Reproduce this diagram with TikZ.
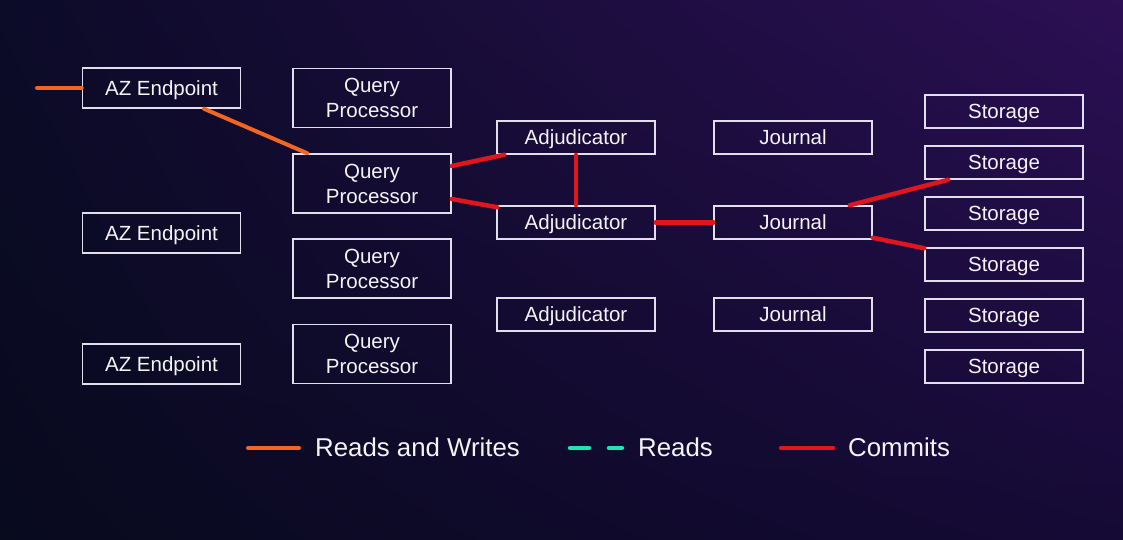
\documentclass[tikz,border=0pt]{standalone}
\usepackage{fontspec}
\setmainfont{Liberation Sans}
\usetikzlibrary{shadings}
\definecolor{bgUL}{HTML}{0C0B28}
\definecolor{bgUR}{HTML}{2C0F54}
\definecolor{bgLL}{HTML}{080A1E}
\definecolor{bgLR}{HTML}{150A36}
\definecolor{boxline}{HTML}{E2DEEC}
\definecolor{txt}{HTML}{F4F4F8}
\definecolor{rworange}{HTML}{F26522}
\definecolor{commitred}{HTML}{E0161E}
\definecolor{readteal}{HTML}{1FE5B5}
\tikzset{
  comp/.style={draw=boxline, line width=1.5pt, inner sep=0pt, text=txt,
    minimum width=158pt, font=\fontsize{20.5}{25}\selectfont, align=center},
  onebox/.style={comp, minimum height=40pt, text depth=0pt},
  twobox/.style={comp, minimum height=59pt},
  thinbox/.style={comp, minimum height=33pt, text depth=0pt},
  rwline/.style={draw=rworange, line width=4pt, line cap=round},
  cmline/.style={draw=commitred, line width=4.5pt, line cap=round},
  rdline/.style={draw=readteal, line width=4.5pt, line cap=round},
  legtext/.style={anchor=west, text=txt, inner sep=0pt, font=\fontsize{25.8}{30}\selectfont},
}
\begin{document}
\begin{tikzpicture}[x=1pt,y=-1pt]
\useasboundingbox (0,0) rectangle (1123,539);
\shade[upper left=bgUL, upper right=bgUR, lower left=bgLL, lower right=bgLR] (0,0) rectangle (1123,539);

% AZ endpoints
\node[onebox] (az1) at (161.5,88) {AZ Endpoint};
\node[onebox] (az2) at (161.5,233) {AZ Endpoint};
\node[onebox] (az3) at (161.5,364) {AZ Endpoint};
% Query processors
\node[twobox] (qp1) at (372,98) {Query\\Processor};
\node[twobox] (qp2) at (372,183.5) {Query\\Processor};
\node[twobox] (qp3) at (372,268.5) {Query\\Processor};
\node[twobox] (qp4) at (372,354) {Query\\Processor};
% Adjudicators
\node[thinbox] (adj1) at (576,137.5) {Adjudicator};
\node[thinbox] (adj2) at (576,222.5) {Adjudicator};
\node[thinbox] (adj3) at (576,314.5) {Adjudicator};
% Journals
\node[thinbox] (j1) at (793,137.5) {Journal};
\node[thinbox] (j2) at (793,222.5) {Journal};
\node[thinbox] (j3) at (793,314.5) {Journal};
% Storage
\node[thinbox] (st1) at (1004,111.5) {Storage};
\node[thinbox] (st2) at (1004,162.5) {Storage};
\node[thinbox] (st3) at (1004,213.5) {Storage};
\node[thinbox] (st4) at (1004,264.5) {Storage};
\node[thinbox] (st5) at (1004,315.5) {Storage};
\node[thinbox] (st6) at (1004,366.5) {Storage};

% connectors
\coordinate (client) at (37,88);
\draw[rwline] (client) -- (az1.west);
\draw[rwline] ([xshift=42.5pt]az1.south) -- ([xshift=15pt]qp2.north west);
\draw[cmline] ([yshift=17.5pt]qp2.east) -- ([xshift=8pt]adj1.south west);
\draw[cmline] ([yshift=-15.5pt]qp2.east) -- ([xshift=1pt,yshift=-2pt]adj2.north west);
\draw[cmline] (adj1.south) -- (adj2.north);
\draw[cmline] (adj2.east) -- (j2.west);
\draw[cmline] ([xshift=-23pt]j2.north east) -- ([xshift=24pt]st2.south west);
\draw[cmline] ([yshift=2pt]j2.south east) -- ([yshift=-1pt]st4.north west);

% legend
\coordinate (l1a) at (248,448); \coordinate (l1b) at (299,448);
\draw[rwline] (l1a) -- (l1b);
\node[legtext] (lt1) at (315,447) {Reads and Writes};
\coordinate (l2a) at (570,448); \coordinate (l2b) at (589,448);
\coordinate (l2c) at (609,448); \coordinate (l2d) at (622,448);
\draw[rdline] (l2a) -- (l2b);
\draw[rdline] (l2c) -- (l2d);
\node[legtext] (lt2) at (638,447) {Reads};
\coordinate (l3a) at (781,448); \coordinate (l3b) at (833,448);
\draw[cmline] (l3a) -- (l3b);
\node[legtext] (lt3) at (848,447) {Commits};
\end{tikzpicture}
\end{document}
